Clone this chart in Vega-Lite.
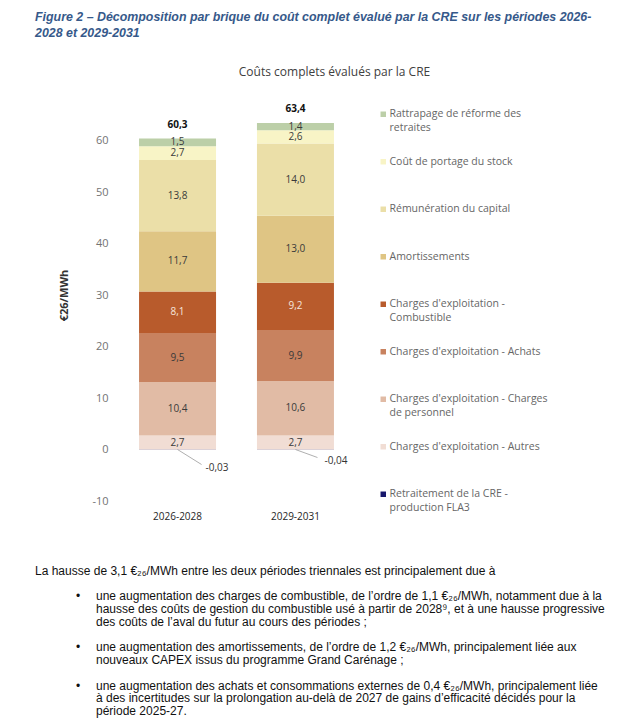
{
  "$schema": "https://vega.github.io/schema/vega-lite/v6.json",
  "padding": {"left": 35, "top": 10, "right": 5, "bottom": 5},
  "background": "white",
  "title": {
    "text": ["Figure 2 – Décomposition par brique du coût complet évalué par la CRE sur les périodes 2026-", "2028 et 2029-2031"],
    "anchor": "start",
    "frame": "bounds",
    "font": "Liberation Sans",
    "fontSize": 12.4,
    "fontStyle": "italic",
    "fontWeight": "bold",
    "color": "#36598a",
    "lineHeight": 16,
    "offset": 27
  },
  "bounds": "flush",
  "spacing": 70,
  "resolve": {"scale": {"color": "independent"}, "legend": {"color": "independent"}},
  "vconcat": [
    {
      "width": 235,
      "height": 412,
      "title": {
        "text": "Coûts complets évalués par la CRE",
        "font": "Open Sans",
        "fontSize": 12,
        "fontWeight": "normal",
        "color": "#404040",
        "anchor": "middle",
        "frame": "group",
        "dx": 98,
        "offset": 10
      },
      "data": {
        "values": [
          {"period": "2026-2028", "category": "Retraitement de la CRE - production FLA3", "rank": 0, "value": -0.03},
          {"period": "2026-2028", "category": "Charges d'exploitation - Autres", "rank": 1, "value": 2.7},
          {"period": "2026-2028", "category": "Charges d'exploitation - Charges de personnel", "rank": 2, "value": 10.4},
          {"period": "2026-2028", "category": "Charges d'exploitation - Achats", "rank": 3, "value": 9.5},
          {"period": "2026-2028", "category": "Charges d'exploitation - Combustible", "rank": 4, "value": 8.1},
          {"period": "2026-2028", "category": "Amortissements", "rank": 5, "value": 11.7},
          {"period": "2026-2028", "category": "Rémunération du capital", "rank": 6, "value": 13.8},
          {"period": "2026-2028", "category": "Coût de portage du stock", "rank": 7, "value": 2.7},
          {"period": "2026-2028", "category": "Rattrapage de réforme des retraites", "rank": 8, "value": 1.5},
          {"period": "2029-2031", "category": "Retraitement de la CRE - production FLA3", "rank": 0, "value": -0.04},
          {"period": "2029-2031", "category": "Charges d'exploitation - Autres", "rank": 1, "value": 2.7},
          {"period": "2029-2031", "category": "Charges d'exploitation - Charges de personnel", "rank": 2, "value": 10.6},
          {"period": "2029-2031", "category": "Charges d'exploitation - Achats", "rank": 3, "value": 9.9},
          {"period": "2029-2031", "category": "Charges d'exploitation - Combustible", "rank": 4, "value": 9.2},
          {"period": "2029-2031", "category": "Amortissements", "rank": 5, "value": 13.0},
          {"period": "2029-2031", "category": "Rémunération du capital", "rank": 6, "value": 14.0},
          {"period": "2029-2031", "category": "Coût de portage du stock", "rank": 7, "value": 2.6},
          {"period": "2029-2031", "category": "Rattrapage de réforme des retraites", "rank": 8, "value": 1.4}
        ]
      },
      "transform": [
        {"stack": "value", "groupby": ["period"], "sort": [{"field": "rank", "order": "ascending"}], "as": ["v0", "v1"]},
        {"calculate": "(datum.v0 + datum.v1) / 2", "as": "mid"}
      ],
      "encoding": {
        "x": {
          "field": "period",
          "type": "nominal",
          "scale": {"paddingInner": 0.347, "paddingOuter": 0.17},
          "axis": {
            "title": null,
            "domain": false,
            "ticks": false,
            "labelAngle": 0,
            "labelPadding": 10,
            "labelFont": "Open Sans",
            "labelFontSize": 10,
            "labelFontWeight": 500,
            "labelColor": "#262626"
          }
        }
      },
      "layer": [
        {
          "mark": {"type": "bar"},
          "encoding": {
            "y": {
              "field": "v0",
              "type": "quantitative",
              "scale": {"domain": [-10, 70], "nice": false, "zero": false},
              "axis": {
                "title": "€26/MWh",
                "titleFont": "Open Sans",
                "titleFontSize": 11,
                "titleFontWeight": "bold",
                "titleColor": "#333333",
                "titlePadding": 22,
                "values": [-10, 0, 10, 20, 30, 40, 50, 60],
                "grid": false,
                "domain": false,
                "ticks": false,
                "labelPadding": 11,
                "labelFont": "Open Sans",
                "labelFontSize": 11,
                "labelColor": "#737373"
              }
            },
            "y2": {"field": "v1"},
            "color": {
              "field": "category",
              "type": "nominal",
              "scale": {
                "domain": [
                  "Rattrapage de réforme des retraites",
                  "Coût de portage du stock",
                  "Rémunération du capital",
                  "Amortissements",
                  "Charges d'exploitation - Combustible",
                  "Charges d'exploitation - Achats",
                  "Charges d'exploitation - Charges de personnel",
                  "Charges d'exploitation - Autres",
                  "Retraitement de la CRE - production FLA3"
                ],
                "range": ["#bccfa8", "#f8f4c6", "#ebdfa8", "#dfc584", "#b85b2c", "#c8825f", "#e1bba5", "#f1ddd4", "#17176c"]
              },
              "legend": {
                "title": null,
                "orient": "right",
                "offset": 4,
                "padding": 20,
                "symbolType": "square",
                "symbolSize": 30,
                "symbolStrokeWidth": 0,
                "labelFont": "Open Sans",
                "labelFontSize": 10.5,
                "labelColor": "#666666",
                "labelOffset": 1,
                "labelLimit": 250,
                "rowPadding": 22.5,
                "labelExpr": "datum.label == 'Rattrapage de réforme des retraites' ? ['Rattrapage de réforme des', 'retraites'] : datum.label == \"Charges d'exploitation - Combustible\" ? [\"Charges d'exploitation -\", 'Combustible'] : datum.label == \"Charges d'exploitation - Charges de personnel\" ? [\"Charges d'exploitation - Charges\", 'de personnel'] : datum.label == 'Retraitement de la CRE - production FLA3' ? ['Retraitement de la CRE -', 'production FLA3'] : [datum.label, '']",
                "encode": {"labels": {"update": {"lineHeight": {"value": 13.5}}}}
              }
            }
          }
        },
        {
          "mark": {"type": "rule", "color": "#d6d6d6", "strokeWidth": 1},
          "encoding": {"y": {"datum": 0, "type": "quantitative"}}
        },
        {
          "transform": [{"filter": "datum.rank > 0"}],
          "mark": {"type": "text", "font": "Open Sans", "fontSize": 10, "baseline": "middle"},
          "encoding": {
            "y": {"field": "mid", "type": "quantitative"},
            "text": {"field": "value", "type": "quantitative", "format": ".1f"},
            "color": {"condition": {"test": "datum.rank == 4", "value": "#f6e6dc"}, "value": "#3a3a3a"}
          }
        },
        {
          "transform": [{"filter": "datum.rank == 0 && datum.period == '2026-2028'"}],
          "mark": {"type": "rule", "color": "#9a9a9a", "strokeWidth": 0.8, "x2Offset": 24, "y2Offset": 15},
          "encoding": {
            "y": {"datum": 0, "type": "quantitative"},
            "x2": {"field": "period"},
            "y2": {"datum": 0}
          }
        },
        {
          "transform": [{"filter": "datum.rank == 0 && datum.period == '2029-2031'"}],
          "mark": {"type": "rule", "color": "#9a9a9a", "strokeWidth": 0.8, "x2Offset": 22, "y2Offset": 8},
          "encoding": {
            "y": {"datum": 0, "type": "quantitative"},
            "x2": {"field": "period"},
            "y2": {"datum": 0}
          }
        },
        {
          "transform": [{"filter": "datum.rank == 0 && datum.period == '2026-2028'"}],
          "mark": {"type": "text", "font": "Open Sans", "fontSize": 10, "align": "left", "baseline": "middle", "color": "#333333", "dx": 28, "dy": 18},
          "encoding": {
            "y": {"datum": 0, "type": "quantitative"},
            "text": {"field": "value", "type": "quantitative", "format": ".2f"}
          }
        },
        {
          "transform": [{"filter": "datum.rank == 0 && datum.period == '2029-2031'"}],
          "mark": {"type": "text", "font": "Open Sans", "fontSize": 10, "align": "left", "baseline": "middle", "color": "#333333", "dx": 29, "dy": 11},
          "encoding": {
            "y": {"datum": 0, "type": "quantitative"},
            "text": {"field": "value", "type": "quantitative", "format": ".2f"}
          }
        },
        {
          "data": {"values": [{"period": "2026-2028", "total": 60.3}, {"period": "2029-2031", "total": 63.4}]},
          "mark": {"type": "text", "font": "Open Sans", "fontSize": 10, "fontWeight": "bold", "color": "#111111", "baseline": "middle", "dy": -14},
          "encoding": {
            "y": {"field": "total", "type": "quantitative"},
            "text": {"field": "total", "type": "quantitative", "format": ".1f"}
          }
        }
      ]
    },
    {
      "width": 235,
      "height": 140,
      "data": {
        "values": [
          {"line": 0, "col": "intro", "bullet": false, "text": "La hausse de 3,1 €₂₆/MWh entre les deux périodes triennales est principalement due à"},
          {"line": 2, "col": "text", "bullet": true, "text": "une augmentation des charges de combustible, de l’ordre de 1,1 €₂₆/MWh, notamment due à la"},
          {"line": 3, "col": "text", "bullet": false, "text": "hausse des coûts de gestion du combustible usé à partir de 2028⁹, et à une hausse progressive"},
          {"line": 4, "col": "text", "bullet": false, "text": "des coûts de l’aval du futur au cours des périodes ;"},
          {"line": 6, "col": "text", "bullet": true, "text": "une augmentation des amortissements, de l’ordre de 1,2 €₂₆/MWh, principalement liée aux"},
          {"line": 7, "col": "text", "bullet": false, "text": "nouveaux CAPEX issus du programme Grand Carénage ;"},
          {"line": 9, "col": "text", "bullet": true, "text": "une augmentation des achats et consommations externes de 0,4 €₂₆/MWh, principalement liée"},
          {"line": 10, "col": "text", "bullet": false, "text": "à des incertitudes sur la prolongation au-delà de 2027 de gains d’efficacité décidés pour la"},
          {"line": 11, "col": "text", "bullet": false, "text": "période 2025-27."}
        ]
      },
      "encoding": {
        "y": {"field": "line", "type": "quantitative", "scale": {"domain": [0, 11], "reverse": true, "nice": false, "zero": false}, "axis": null}
      },
      "layer": [
        {
          "mark": {"type": "text", "align": "left", "baseline": "middle", "font": "Liberation Sans", "fontSize": 12, "color": "#111111"},
          "encoding": {
            "x": {"field": "col", "type": "nominal", "scale": {"type": "point", "domain": ["intro", "text"], "range": [-84, -23], "padding": 0}, "axis": null},
            "text": {"field": "text", "type": "nominal"}
          }
        },
        {
          "transform": [{"filter": "datum.bullet"}],
          "mark": {"type": "text", "align": "left", "baseline": "middle", "font": "Liberation Sans", "fontSize": 12, "color": "#111111", "dx": -20},
          "encoding": {
            "x": {"datum": "text", "type": "nominal", "scale": {"type": "point", "domain": ["intro", "text"], "range": [-84, -23], "padding": 0}, "axis": null},
            "text": {"value": "•"}
          }
        }
      ]
    }
  ],
  "config": {
    "view": {"stroke": null},
    "font": "Open Sans",
    "locale": {
      "number": {"decimal": ",", "thousands": " ", "grouping": [3], "currency": ["", " €"], "minus": "-"}
    }
  }
}
